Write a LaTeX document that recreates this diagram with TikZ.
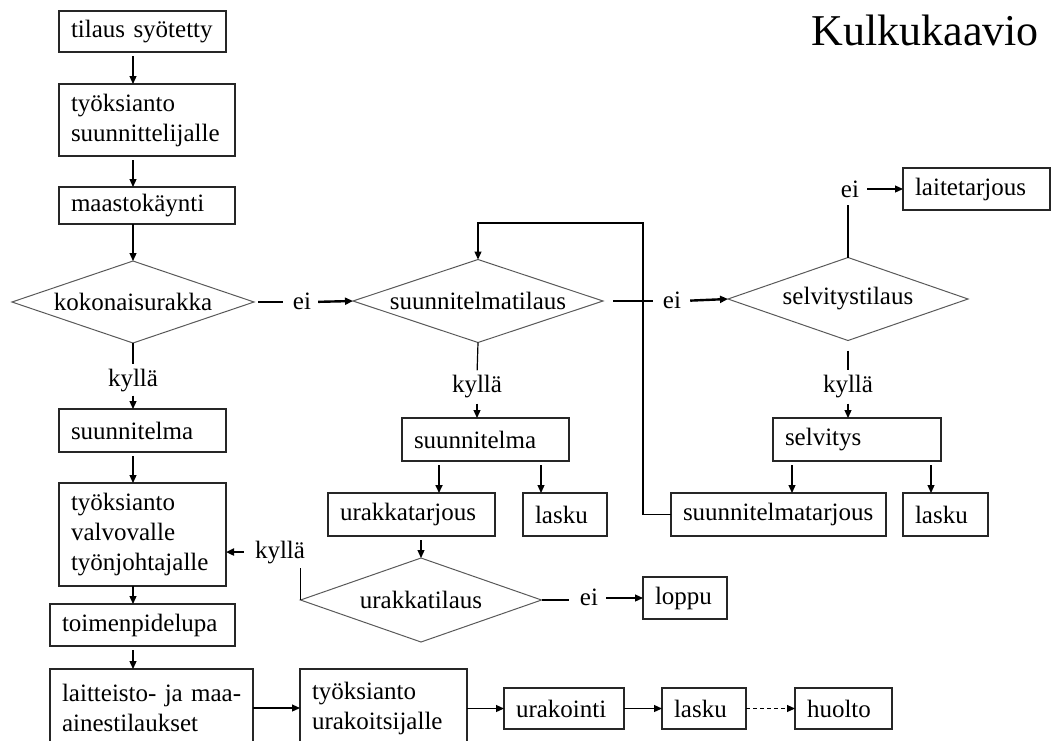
\documentclass[tikz,border=0pt]{standalone}
\usepackage{fontspec}
\setmainfont{Liberation Serif}
\usetikzlibrary{shapes.geometric,arrows.meta}
\hyphenpenalty=10000
\exhyphenpenalty=10000
\tikzset{
  every node/.style={font=\fontsize{25}{30}\selectfont},
  box/.style={draw=black!85, line width=1.2pt, anchor=north west, align=left,
    inner xsep=12pt, inner ysep=0pt, outer sep=0pt},
  choice/.style={diamond, draw=black!65, line width=1pt, inner sep=0pt, aspect=3, outer sep=0pt},
  lbl/.style={inner sep=0pt, anchor=base},
  arr/.style={line width=1.2pt, -{Triangle[length=8pt,width=7pt]}},
  fat/.style={line width=2.4pt, -{Triangle[length=8pt,width=7pt]}},
  line/.style={line width=1.2pt}
}
\begin{document}
\begin{tikzpicture}[x=1pt,y=1pt,yscale=-1]
\useasboundingbox (0,0) rectangle (1051,740);
\node [anchor=base west, font=\fontsize{44}{50}\selectfont] (title) at (808,45) {Kulkukaavio};
% left column
\coordinate (colL) at (133,0);
\node [box, text width=143pt, minimum height=41pt] (tilaus) at (59,11) {tilaus syötetty};
\node [box, text width=152pt, minimum height=72pt] (tyo1) at (59,84) {työksianto\\suunnittelijalle};
\node [box, text width=152pt, minimum height=37pt] (maasto) at (59,187) {maastokäynti};
\node [choice, minimum width=242pt, minimum height=82pt] (koko) at (133,302) {kokonaisurakka};
\node [box, text width=143pt, minimum height=43pt] (suun1) at (59,409) {suunnitelma};
\node [box, text width=143pt, minimum height=103pt] (tyo2) at (59,483) {työksianto\\valvovalle\\työnjohtajalle};
\node [box, text width=161pt, minimum height=42pt] (toimen) at (50,604) {toimenpidelupa};
\node [box, text width=179pt, minimum height=78pt] (laite) at (50,669) {\mbox{laitteisto- ja maa-}\\ainestilaukset};
% bottom row
\node [box, text width=143pt, minimum height=78pt] (tyo3) at (300,669) {työksianto\\urakoitsijalle};
\node [box, text width=96pt, minimum height=41pt] (urak) at (504,688) {urakointi};
\node [box, text width=60pt, minimum height=41pt] (lasku3) at (662,688) {lasku};
\node [box, text width=73pt, minimum height=41pt] (huolto) at (795,688) {huolto};
% middle column
\node [choice, minimum width=250pt, minimum height=83pt] (suunt1) at (478,301) {suunnitelmatilaus};
\node [box, text width=143pt, minimum height=43pt] (suun2) at (402,418) {suunnitelma};
\node [box, text width=143pt, minimum height=43pt] (urakt) at (328,493) {urakkatarjous};
\node [box, text width=60pt, minimum height=43pt] (lasku1) at (523,493) {lasku};
\node [choice, minimum width=241pt, minimum height=84pt] (urakt1) at (421,600) {urakkatilaus};
\node [box, text width=60pt, minimum height=42pt] (loppu) at (643,577) {loppu};
% right column
\node [choice, minimum width=240pt, minimum height=83pt] (selvt) at (848,299) {selvitystilaus};
\node [box, text width=123pt, minimum height=42pt] (laitet) at (903,168) {laitetarjous};
\node [box, text width=144pt, minimum height=43pt] (selv) at (773,418) {selvitys};
\node [box, text width=191pt, minimum height=43pt] (suunmt) at (671,493) {suunnitelmatarjous};
\node [box, text width=61pt, minimum height=43pt] (lasku2) at (903,493) {lasku};
% labels
\node [lbl] (ei1) at (302,309) {ei};
\node [lbl] (ei2) at (672,308) {ei};
\node [lbl] (ei3) at (850,197) {ei};
\node [lbl] (ei4) at (589,605) {ei};
\node [lbl] (ky1) at (133,386) {kyllä};
\node [lbl] (ky2) at (477,392) {kyllä};
\node [lbl] (ky3) at (848,392) {kyllä};
\node [lbl] (ky4) at (280,558) {kyllä};
% helper points
\coordinate (a1) at ([xshift=27.5pt]urakt.north);
\coordinate (a2) at ([xshift=-24pt]lasku1.north);
\coordinate (a3) at ([xshift=13.5pt]suunmt.north);
\coordinate (a4) at ([xshift=-14.5pt]lasku2.north);
\coordinate (loop) at (643,223);
% left column flow
\draw [arr, shorten <=4pt] (tilaus.south -| colL) -- (tyo1.north -| colL);
\draw [arr, shorten <=4pt] (tyo1.south -| colL) -- (maasto.north -| colL);
\draw [arr] (maasto.south -| colL) -- (koko.north);
\draw [line, shorten >=4pt] (koko.south) -- (ky1.north);
\draw [arr, shorten <=4pt] (ky1.south) -- (ky1.south |- suun1.north);
\draw [arr, shorten <=4pt] (suun1.south -| colL) -- (tyo2.north -| colL);
\draw [arr] (tyo2.south -| colL) -- (toimen.north -| colL);
\draw [arr, shorten <=4pt] (toimen.south -| colL) -- (laite.north -| colL);
\draw [arr] (laite.east) -- (tyo3.west);
\draw [arr] (tyo3.east |- urak.west) -- (urak.west);
\draw [arr] (urak.east) -- (lasku3.west);
\draw [arr, dashed, dash pattern=on 4pt off 3pt, line width=1pt] (lasku3.east) -- (huolto.west);
% ei branches
\draw [line, shorten <=4pt, shorten >=10pt] (koko.east) -- (ei1.west |- koko.east);
\draw [fat, shorten <=7pt] (ei1.east |- koko.east) -- (suunt1.west);
\draw [line, shorten <=10pt, shorten >=10pt] (suunt1.east) -- (ei2.west |- suunt1.east);
\draw [fat, shorten <=9pt] (ei2.east |- suunt1.east) -- (selvt.west);
\draw [line, shorten >=8pt] (selvt.north) -- (selvt.north |- ei3.south);
\draw [arr, shorten <=8pt] (ei3.east |- laitet.west) -- (laitet.west);
\draw [line, shorten >=11pt] (urakt1.east) -- (ei4.west |- urakt1.east);
\draw [arr, shorten <=8pt] (ei4.east |- loppu.west) -- (loppu.west);
% kyllä branches
\draw [line, shorten >=4pt] (suunt1.south) -- (ky2.north);
\draw [arr, shorten <=6pt] (ky2.south) -- (ky2.south |- suun2.north);
\draw [line, shorten <=10pt, shorten >=4pt] (selvt.south) -- (ky3.north);
\draw [arr, shorten <=6pt] (ky3.south) -- (ky3.south |- selv.north);
\draw [line, shorten >=4pt] (urakt1.west) -- (urakt1.west |- ky4.south);
\draw [fat, shorten <=11pt] (ky4.west) -- (ky4.west -| tyo2.east);
% middle and right boxes
\draw [arr, line width=1.6pt, shorten <=4pt] (suun2.south -| a1) -- (a1);
\draw [arr, shorten <=4pt] (suun2.south -| a2) -- (a2);
\draw [arr, shorten <=4pt] (urakt.south -| urakt1.north) -- (urakt1.north);
\draw [arr, shorten <=4pt] (selv.south -| a3) -- (a3);
\draw [arr, shorten <=4pt] (selv.south -| a4) -- (a4);
\draw [arr] (suunmt.west) -| (loop) -| (suunt1.north);
\end{tikzpicture}
\end{document}
